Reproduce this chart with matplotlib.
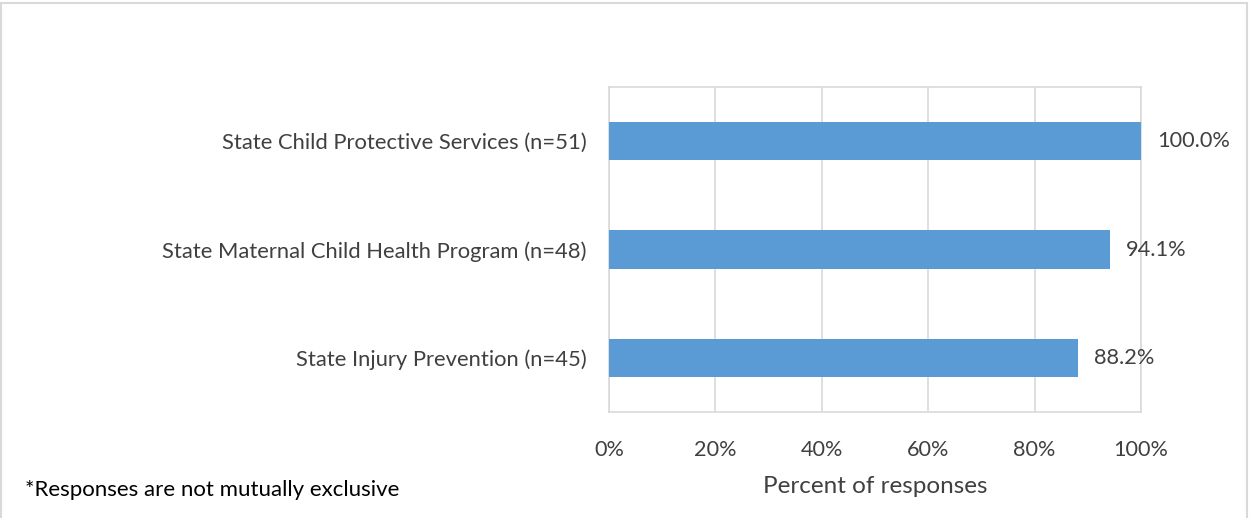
import matplotlib.pyplot as plt
from matplotlib.patches import Rectangle

categories = [
    "State Child Protective Services (n=51)",
    "State Maternal Child Health Program (n=48)",
    "State Injury Prevention (n=45)",
]
values = [100.0, 94.1, 88.2]
xticks = [0, 20, 40, 60, 80, 100]

plt.rcParams['font.family'] = ['Lato', 'DejaVu Sans']

fig = plt.figure(figsize=(12.49, 5.18), dpi=100)
ax = fig.add_axes([0.4876, 0.2046, 0.4259, 0.6274])

ypos = list(range(len(categories)))
bars = ax.barh(ypos, values, height=0.355, color="#5b9bd5", zorder=3)

for bar, v in zip(bars, values):
    ax.text(bar.get_width() + 3, bar.get_y() + bar.get_height() / 2,
            "{:.1f}%".format(v), va="center", ha="left",
            fontsize=15.7, color="#404040")

ax.set_xlim(0, 100)
ax.set_ylim(2.5, -0.5)
ax.set_yticks(ypos)
ax.set_yticklabels(categories, fontsize=15.8, color="#404040")
ax.set_xticks(xticks)
ax.set_xticklabels(["{}%".format(t) for t in xticks], fontsize=15.6, color="#404040")
ax.tick_params(axis="both", length=0)
ax.tick_params(axis="y", pad=16)
ax.tick_params(axis="x", pad=20)
ax.set_xlabel("Percent of responses", fontsize=17.5, color="#404040", labelpad=12)

ax.grid(axis="x", color="#d9d9d9", linewidth=1.2, zorder=0)
for side in ["top", "bottom", "left", "right"]:
    ax.spines[side].set_color("#d9d9d9")
    ax.spines[side].set_linewidth(1.2)

fig.text(0.02, 0.055, "*Responses are not mutually exclusive", fontsize=16,
         color="black", ha="left", va="center")

# light frame around the chart area
fig.patches.append(Rectangle((0.001, -0.01), 0.997, 1.005, transform=fig.transFigure,
                             fill=False, edgecolor="#d9d9d9", linewidth=1.5))

fig.savefig("out.png", dpi=100)
